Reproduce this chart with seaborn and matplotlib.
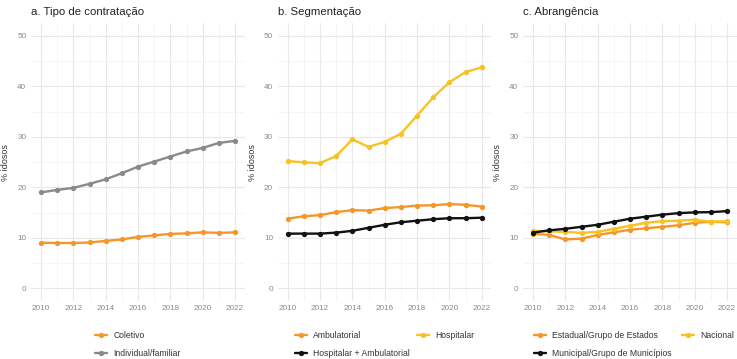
import matplotlib
matplotlib.use("Agg")
import matplotlib.pyplot as plt
import seaborn as sns
import pandas as pd

anos = list(range(2010, 2023))

# a. Tipo de contratação
coletivo = [9.05, 9.0, 9.0, 9.1, 9.4, 9.7, 10.2, 10.5, 10.8, 10.9, 11.1, 11.0, 11.1]
individual_familiar = [19.0, 19.5, 19.9, 20.7, 21.6, 22.8, 24.1, 25.1, 26.1, 27.1, 27.8, 28.8, 29.2]

# b. Segmentação
ambulatorial = [13.8, 14.3, 14.5, 15.1, 15.5, 15.4, 15.9, 16.1, 16.4, 16.45, 16.7, 16.55, 16.2]
hospitalar = [25.2, 24.95, 24.8, 26.2, 29.5, 28.0, 29.0, 30.6, 34.2, 37.8, 40.8, 42.8, 43.75]
hosp_amb = [10.85, 10.85, 10.85, 11.05, 11.4, 12.0, 12.6, 13.1, 13.4, 13.7, 13.9, 13.9, 14.0]

# c. Abrangência
estadual = [10.8, 10.6, 9.7, 9.85, 10.6, 11.1, 11.6, 11.9, 12.2, 12.5, 13.0, 13.2, 13.1]
nacional = [11.4, 11.3, 11.2, 11.0, 11.2, 11.8, 12.4, 13.0, 13.3, 13.4, 13.6, 13.2, 13.3]
municipal = [11.05, 11.5, 11.8, 12.2, 12.6, 13.2, 13.8, 14.2, 14.6, 14.9, 15.05, 15.1, 15.3]

titulos = ["a. Tipo de contratação", "b. Segmentação", "c. Abrangência"]
y_ticks = [0, 10, 20, 30, 40, 50]
x_ticks = [2010, 2012, 2014, 2016, 2018, 2020, 2022]

LARANJA = "#F5962A"
AMARELO = "#F8C224"
CINZA = "#8A8A8A"
PRETO = "#111111"

paineis = [
    {
        "series": [("Coletivo", coletivo, LARANJA),
                   ("Individual/familiar", individual_familiar, CINZA)],
        "ncol": 1,
        "ordem_legenda": [0, 1],
        "legenda_x": 0.5,
        "espaco_col": 0.9,
    },
    {
        "series": [("Ambulatorial", ambulatorial, LARANJA),
                   ("Hospitalar", hospitalar, AMARELO),
                   ("Hospitalar + Ambulatorial", hosp_amb, PRETO)],
        "ncol": 2,
        "ordem_legenda": [0, 2, 1],
        "legenda_x": 0.5,
        "espaco_col": 0.8,
    },
    {
        "series": [("Estadual/Grupo de Estados", estadual, LARANJA),
                   ("Nacional", nacional, AMARELO),
                   ("Municipal/Grupo de Municípios", municipal, PRETO)],
        "ncol": 2,
        "ordem_legenda": [0, 2, 1],
        "legenda_x": 0.52,
        "espaco_col": 1.2,
    },
]

sns.set_theme(style="white")
plt.rcParams["font.family"] = ["Liberation Sans", "DejaVu Sans"]

fig = plt.figure(figsize=(7.37, 3.59), dpi=100)
W, H = 737, 359
lefts = [31.3, 278.0, 523.3]
ax_w = 213.4
ax_top, ax_bot = 23.1, 301.1

for i, painel in enumerate(paineis):
    ax = fig.add_axes([lefts[i] / W, 1 - ax_bot / H, ax_w / W, (ax_bot - ax_top) / H])
    linhas = []
    for nome, valores, cor in painel["series"]:
        linhas.append(pd.DataFrame({"ano": anos, "pct": valores, "serie": nome}))
    df = pd.concat(linhas, ignore_index=True)
    nomes = [s[0] for s in painel["series"]]
    cores = {s[0]: s[2] for s in painel["series"]}
    sns.lineplot(data=df, x="ano", y="pct", hue="serie", hue_order=nomes,
                 palette=cores, marker="o", markersize=3.8, markeredgewidth=0,
                 linewidth=1.7, legend=False, ax=ax)

    ax.set_xlim(2009.4, 2022.6)
    ax.set_ylim(-2.5, 52.5)
    ax.set_xticks(x_ticks)
    ax.set_xticks(anos, minor=True)
    ax.set_yticks(y_ticks)
    ax.set_yticks([5, 15, 25, 35, 45], minor=True)
    ax.grid(which="major", color="#E8E8E8", linewidth=0.8)
    ax.grid(which="minor", color="#F1F1F1", linewidth=0.5)
    ax.set_axisbelow(True)
    for s in ax.spines.values():
        s.set_visible(False)
    ax.tick_params(which="both", length=0)
    ax.tick_params(axis="x", labelsize=5.9, labelcolor="#8A8A8A", pad=3)
    ax.tick_params(axis="y", labelsize=5.9, labelcolor="#8A8A8A", pad=3.5)
    ax.set_xlabel("")
    ax.set_ylabel("% idosos", fontsize=6.5, color="#333333")
    ax.yaxis.set_label_coords(-0.1, 0.5)
    ax.set_title(titulos[i], loc="left", fontsize=8.2, color="#222222", pad=6)

    handles = ax.get_lines()[:len(nomes)]
    ordem = painel["ordem_legenda"]
    ax.legend([handles[k] for k in ordem], [nomes[k] for k in ordem],
              loc="center", bbox_to_anchor=(painel["legenda_x"], -0.156),
              ncol=painel["ncol"], frameon=False, fontsize=6.2,
              handlelength=1.4, handletextpad=0.7,
              columnspacing=painel["espaco_col"], labelspacing=1.0,
              borderaxespad=0, labelcolor="#333333")

fig.savefig("out.png", dpi=100, facecolor="white")
